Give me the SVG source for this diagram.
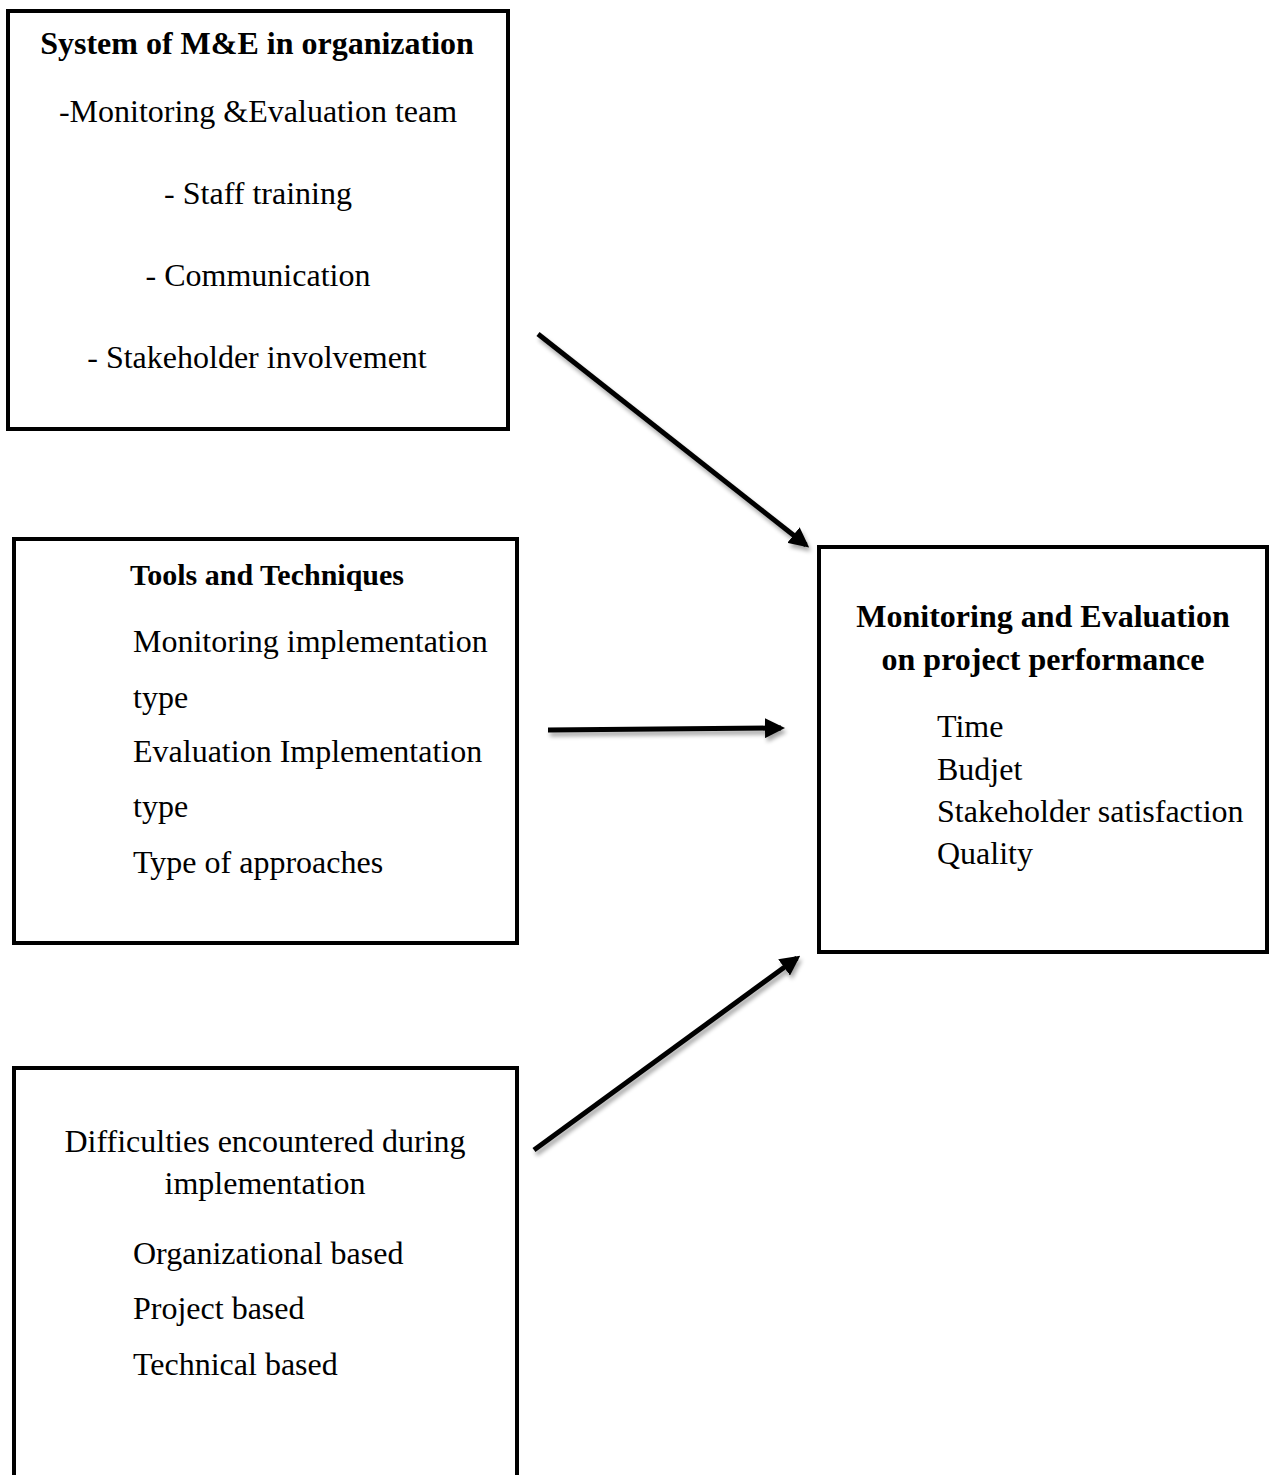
<svg xmlns="http://www.w3.org/2000/svg" width="1271" height="1475" viewBox="0 0 1271 1475">
<style>
.box{fill:#fff;stroke:#000;stroke-width:4}
.t{font-family:"Liberation Serif","Times New Roman",serif;font-size:32px;fill:#000}
.b{font-weight:bold}
.c{text-anchor:middle}
.conn{stroke:#000;stroke-width:5;fill:none;marker-end:url(#ah)}
</style>
<defs>
<marker id="ah" viewBox="0 0 10 10" refX="8" refY="5" markerWidth="4" markerHeight="4" orient="auto" markerUnits="strokeWidth">
<path d="M0,0 L10,5 L0,10 z" fill="#000"/>
</marker>
<filter id="sh" x="-10%" y="-10%" width="120%" height="120%">
<feGaussianBlur in="SourceAlpha" stdDeviation="2"/>
<feOffset dx="2" dy="4" result="o"/>
<feComponentTransfer><feFuncA type="linear" slope="0.35"/></feComponentTransfer>
<feMerge><feMergeNode/><feMergeNode in="SourceGraphic"/></feMerge>
</filter>
</defs>
<g id="node-system">
<rect class="box" x="8" y="11" width="500" height="418"/>
<text class="t b c" x="257" y="54">System of M&amp;E in organization</text>
<text class="t c" x="258" y="122">-Monitoring &amp;Evaluation team</text>
<text class="t c" x="258" y="204">- Staff training</text>
<text class="t c" x="258" y="286">- Communication</text>
<text class="t c" x="257" y="368">- Stakeholder involvement</text>
</g>
<g id="node-tools">
<rect class="box" x="14" y="539" width="503" height="404"/>
<text class="t b" x="130" y="585" style="font-size:30px">Tools and Techniques</text>
<text class="t" x="133" y="652">Monitoring implementation</text>
<text class="t" x="133" y="708">type</text>
<text class="t" x="133" y="762">Evaluation Implementation</text>
<text class="t" x="133" y="817">type</text>
<text class="t" x="133" y="873">Type of approaches</text>
</g>
<g id="node-performance">
<rect class="box" x="819" y="547" width="448" height="405"/>
<text class="t b c" x="1043" y="627">Monitoring and Evaluation</text>
<text class="t b c" x="1043" y="670">on project performance</text>
<text class="t" x="937" y="737">Time</text>
<text class="t" x="937" y="780">Budjet</text>
<text class="t" x="937" y="822">Stakeholder satisfaction</text>
<text class="t" x="937" y="864">Quality</text>
</g>
<g id="node-difficulties">
<path d="M14,1480 L14,1068 L517,1068 L517,1480" class="box"/>
<text class="t c" x="265" y="1152">Difficulties encountered during</text>
<text class="t c" x="265" y="1194">implementation</text>
<text class="t" x="133" y="1264">Organizational based</text>
<text class="t" x="133" y="1319">Project based</text>
<text class="t" x="133" y="1375">Technical based</text>
</g>
<g id="connectors" filter="url(#sh)">
<line class="conn" x1="538" y1="334" x2="806" y2="545"/>
<line class="conn" x1="548" y1="730" x2="781" y2="728"/>
<line class="conn" x1="534" y1="1150" x2="797" y2="958"/>
</g>
</svg>
